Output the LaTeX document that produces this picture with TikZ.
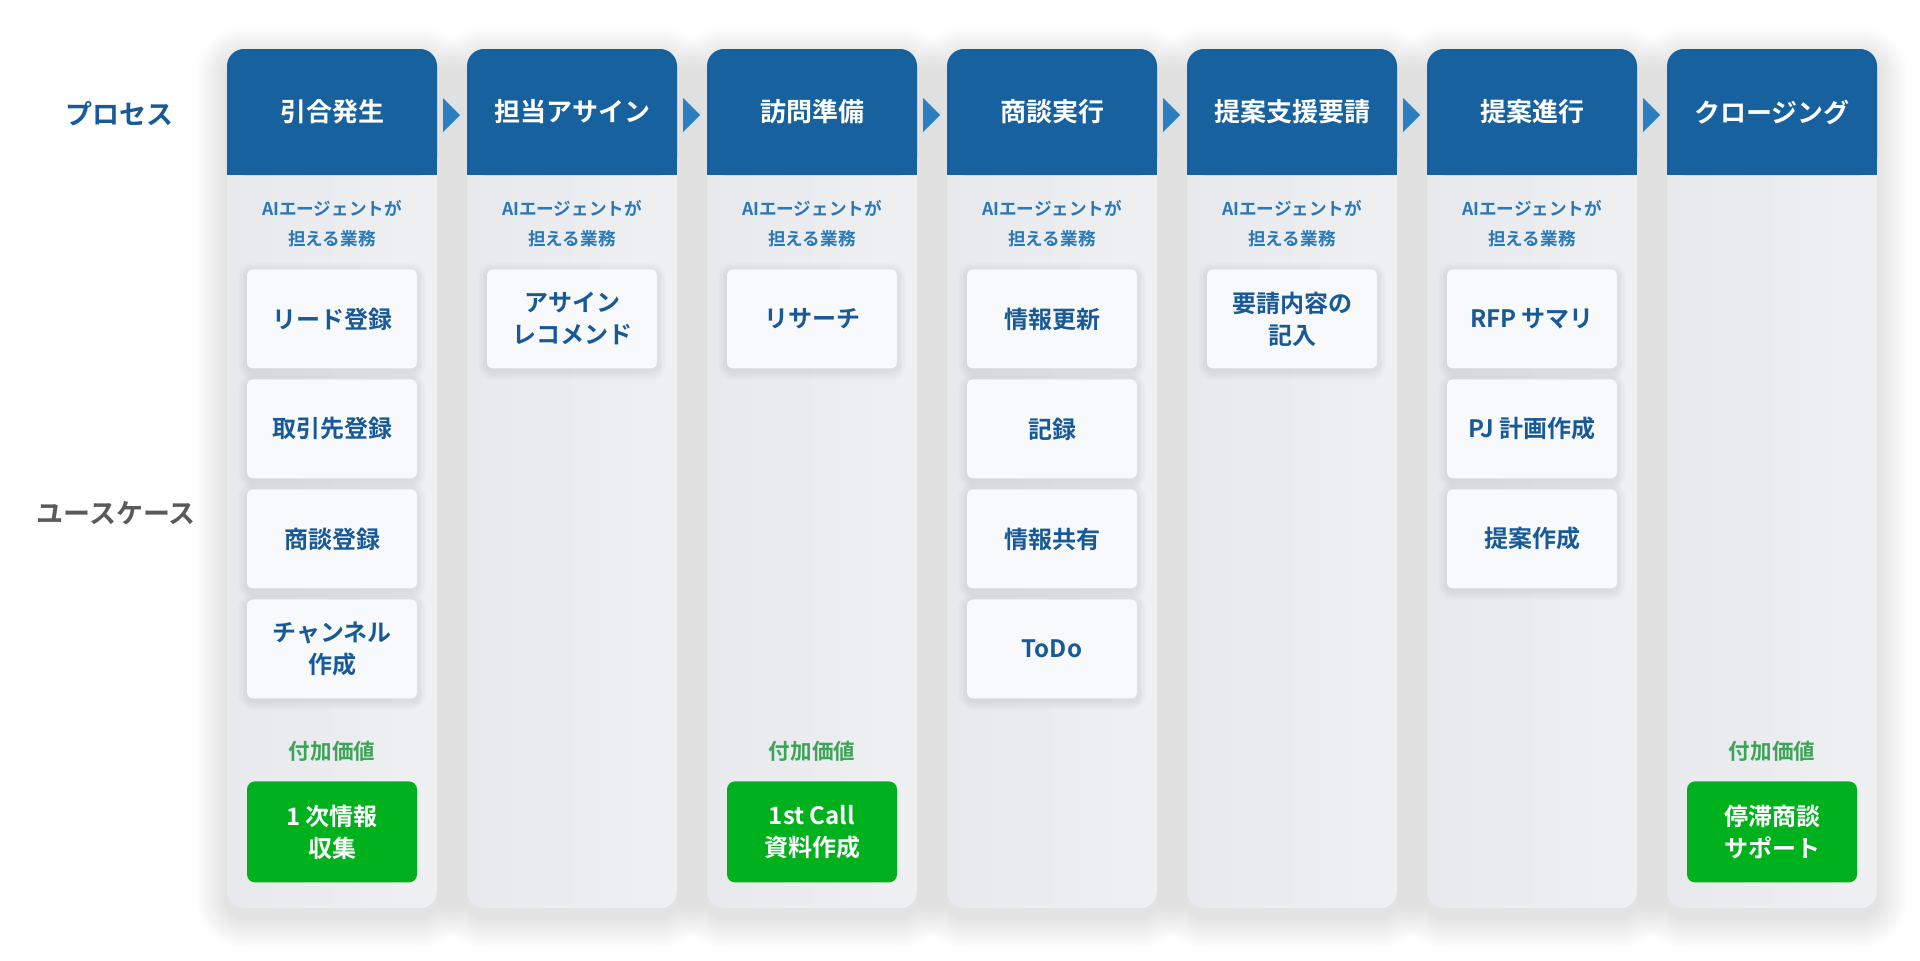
\documentclass[tikz,border=0pt]{standalone}
\usepackage{fontspec}
\setmainfont{Noto Sans CJK JP}[BoldFont={Noto Sans CJK JP Bold}]
\definecolor{hdr}{HTML}{17619F}
\definecolor{tri}{HTML}{2B7EBF}
\definecolor{bodyL}{HTML}{E7E9EC}
\definecolor{bodyR}{HTML}{EFF0F2}
\definecolor{boxfill}{HTML}{F8F9FA}
\definecolor{boxtxt}{HTML}{185A98}
\definecolor{aitxt}{HTML}{2A79B5}
\definecolor{grn}{HTML}{00B11E}
\definecolor{grntxt}{HTML}{3EA45A}
\definecolor{grayfive}{HTML}{5A5A5A}
\tikzset{
  colbody/.style={left color=bodyL,right color=bodyR,rounded corners=8.5pt},
  hdrtxt/.style={text=white,font=\bfseries\fontsize{13}{16}\selectfont,inner sep=0pt},
  aitext/.style={text=aitxt,font=\bfseries\fontsize{8.8}{15}\selectfont,align=center,inner sep=0pt},
  taskbox/.style={anchor=north,fill=boxfill,rounded corners=3pt,minimum width=85pt,minimum height=49.5pt,
    text=boxtxt,font=\bfseries\fontsize{12}{16}\selectfont,align=center,inner sep=0pt},
  valuelbl/.style={text=grntxt,font=\bfseries\fontsize{10.8}{13}\selectfont,inner sep=0pt},
  valuebox/.style={anchor=north,fill=grn,rounded corners=4pt,minimum width=85pt,minimum height=50.5pt,
    text=white,font=\bfseries\fontsize{12}{16}\selectfont,align=center,inner sep=0pt},
  sidelbl/.style={font=\bfseries\fontsize{13.5}{16}\selectfont,inner sep=0pt},
}
% soft shadow: #1 x0, #2 y0, #3 x1, #4 y1 (px), #5 layers, #6 step, #7 yshift, #8 opacity, #9 radius (pt)
\newcommand\softshadow[9]{%
  \foreach \k in {1,...,#5}{%
    \pgfmathsetmacro\rr{#9+\k*#6*0.5}
    \fill[black,opacity=#8,rounded corners=\rr pt]
      (#1-\k*#6,#2-\k*#6+#7) rectangle (#3+\k*#6,#4+\k*#6+#7);
  }%
}
\newcommand\mkcol[3]{%
  \pgfmathsetmacro\cx{332+240*#1}
  \softshadow{\cx-105}{49}{\cx+105}{908}{14}{2.2}{9}{0.009}{8.5}
}
\newcommand\mkcolfill[3]{%
  \pgfmathsetmacro\cx{332+240*#1}
  \path[colbody] (\cx-105,49) rectangle (\cx+105,908);
  \fill[hdr,rounded corners=8.5pt] (\cx-105,49) rectangle (\cx+105,175);
  \fill[hdr] (\cx-105,140) rectangle (\cx+105,175);
  \node[hdrtxt] (#2) at (\cx,112) {#3};
}
\newcommand\mkai[2]{%
  \pgfmathsetmacro\cx{332+240*#1}
  \node[aitext] (#2) at (\cx,224) {AIエージェントが\\担える業務};
}
\newcommand\mktri[1]{%
  \pgfmathsetmacro\tx{443+240*#1}
  \fill[tri] (\tx,98) -- (\tx+17,115) -- (\tx,132) -- cycle;
}
% box shadow: centre x, top y, height (px)
\newcommand\boxshadow[3]{%
  \softshadow{#1-85}{#2}{#1+85}{#2+#3}{6}{1.5}{3}{0.011}{3}
}
\begin{document}
\begin{tikzpicture}[x=0.5pt,y=-0.5pt]
\useasboundingbox (0,0) rectangle (1920,960);
\fill[white] (0,0) rectangle (1920,960);

% column shadows
\mkcol{0}{}{}\mkcol{1}{}{}\mkcol{2}{}{}\mkcol{3}{}{}\mkcol{4}{}{}\mkcol{5}{}{}\mkcol{6}{}{}

% columns
\mkcolfill{0}{h0}{引合発生}
\mkcolfill{1}{h1}{担当アサイン}
\mkcolfill{2}{h2}{訪問準備}
\mkcolfill{3}{h3}{商談実行}
\mkcolfill{4}{h4}{提案支援要請}
\mkcolfill{5}{h5}{提案進行}
\mkcolfill{6}{h6}{クロージング}

% chevrons between headers
\mktri{0}\mktri{1}\mktri{2}\mktri{3}\mktri{4}\mktri{5}

% AI labels
\mkai{0}{ai0}\mkai{1}{ai1}\mkai{2}{ai2}\mkai{3}{ai3}\mkai{4}{ai4}\mkai{5}{ai5}

% side labels
\node[sidelbl,text=boxtxt] (lproc) at (119,114) {プロセス};
\node[sidelbl,text=grayfive] (luse) at (116,513) {ユースケース};

% box shadows
\boxshadow{332}{269}{99}\boxshadow{332}{379}{99}\boxshadow{332}{489}{99}\boxshadow{332}{599}{99}
\boxshadow{572}{269}{99}
\boxshadow{812}{269}{99}
\boxshadow{1052}{269}{99}\boxshadow{1052}{379}{99}\boxshadow{1052}{489}{99}\boxshadow{1052}{599}{99}
\boxshadow{1292}{269}{99}
\boxshadow{1532}{269}{99}\boxshadow{1532}{379}{99}\boxshadow{1532}{489}{99}

% column 0
\node[taskbox] (t01) at (332,269) {リード登録};
\node[taskbox] (t02) at (332,379) {取引先登録};
\node[taskbox] (t03) at (332,489) {商談登録};
\node[taskbox] (t04) at (332,599) {チャンネル\\作成};
\node[valuelbl] (v0) at (332,751) {付加価値};
\node[valuebox] (g0) at (332,781) {1 次情報\\収集};

% column 1
\node[taskbox] (t11) at (572,269) {アサイン\\レコメンド};

% column 2
\node[taskbox] (t21) at (812,269) {リサーチ};
\node[valuelbl] (v2) at (812,751) {付加価値};
\node[valuebox] (g2) at (812,781) {1st Call\\資料作成};

% column 3
\node[taskbox] (t31) at (1052,269) {情報更新};
\node[taskbox] (t32) at (1052,379) {記録};
\node[taskbox] (t33) at (1052,489) {情報共有};
\node[taskbox] (t34) at (1052,599) {ToDo};

% column 4
\node[taskbox] (t41) at (1292,269) {要請内容の\\記入};

% column 5
\node[taskbox] (t51) at (1532,269) {RFP サマリ};
\node[taskbox] (t52) at (1532,379) {PJ 計画作成};
\node[taskbox] (t53) at (1532,489) {提案作成};

% column 6
\node[valuelbl] (v6) at (1772,751) {付加価値};
\node[valuebox] (g6) at (1772,781) {停滞商談\\サポート};
\end{tikzpicture}
\end{document}
